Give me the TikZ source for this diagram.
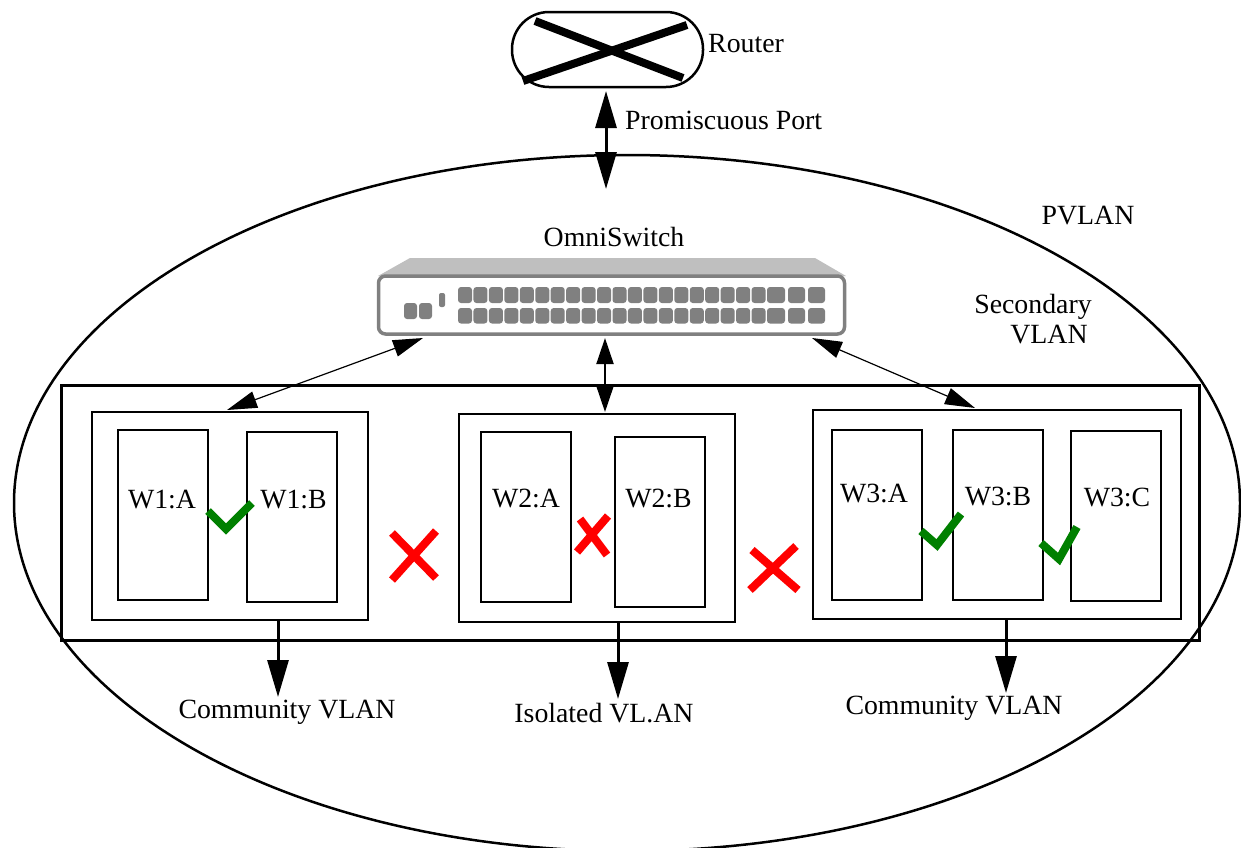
\documentclass[tikz,border=0pt]{standalone}
\usepackage{fontspec}
\setmainfont{Liberation Serif}
\usetikzlibrary{arrows.meta}
\tikzset{
  x=1pt,y=-1pt,
  lbl/.style={inner sep=0pt,font=\fontsize{27.8}{30}\selectfont},
  boxn/.style={draw=black,line width=2.3pt,inner sep=0pt,outer sep=0pt,rectangle},
  big/.style={-{Triangle[length=37pt,width=21pt]},line width=3pt},
  bigboth/.style={{Triangle[length=37pt,width=21pt]}-{Triangle[length=37pt,width=21pt]},line width=3pt},
  thin2/.style={{Triangle[length=30pt,width=17pt]}-{Triangle[length=30pt,width=17pt]},line width=1.2pt},
  mid2/.style={{Triangle[length=26pt,width=17pt]}-{Triangle[length=26pt,width=17pt]},line width=2pt},
  okmark/.style={draw=green!50!black,line width=8pt,miter limit=10},
  nomark/.style={draw=red,line width=8pt},
  port/.style={fill=black!50,draw=none,rounded corners=3pt},
}
\newcommand{\bx}[5]{\node[boxn,minimum width=#4-#2,minimum height=#5-#3,anchor=north west] (#1) at (#2,#3) {};}
\begin{document}
\begin{tikzpicture}
\useasboundingbox (0,0) rectangle (1241,847);
\begin{scope}
\clip (0,0) rectangle (1241,847);
\draw[line width=2.5pt] (627,503) ellipse [x radius=613,y radius=348];
\end{scope}
% router
\node[draw,line width=2.5pt,rounded corners=37pt,minimum width=191pt,minimum height=75pt,inner sep=0pt,outer sep=0pt,anchor=north west] (router) at (512,12) {};
\draw[line width=8pt] (535,21) -- (683,78);
\draw[line width=8pt] (523,81) -- (687,25);
\node[lbl,anchor=west] (routerl) at (708,44) {Router};
\node[lbl,anchor=west] (promisc) at (625,120) {Promiscuous Port};
\coordinate (pa) at (606,91);
\coordinate (pb) at (606,189);
\draw[bigboth] (pa) -- (pb);
% labels
\node[lbl] (pvlan) at (1088,216) {PVLAN};
\node[lbl] (omni) at (614,237) {OmniSwitch};
\node[lbl] (sec1) at (1033,307) {Secondary};
\node[lbl] (sec2) at (1049,335) {VLAN};
% switch
\fill[black!25] (378,276) -- (410,258) -- (815,258) -- (846,276) -- cycle;
\node[draw=black!50,fill=white,line width=3.5pt,rounded corners=7pt,minimum width=466pt,minimum height=58pt,inner sep=0pt,outer sep=0pt,anchor=north west] (sw) at (378.5,276) {};
\foreach \i in {0,...,19}{
  \fill[port] ({458+\i*15.45},287) rectangle +(14,16);
  \fill[port] ({458+\i*15.45},308) rectangle +(14,15.5);
}
\foreach \xa/\xb in {767/785,788/805,808/825}{
  \fill[port] (\xa,287) rectangle (\xb,303);
  \fill[port] (\xa,308) rectangle (\xb,323.5);
}
\fill[port] (404,303) rectangle (417,319);
\fill[port] (419,303) rectangle (432,319);
\fill[port,rounded corners=2pt] (439,293) rectangle (445,307);
% outer rect
\node[boxn,line width=3pt,minimum width=1138pt,minimum height=255pt,anchor=north west] (outer) at (61,385) {};
% W boxes
\bx{wa}{92}{412}{368}{620}
\bx{waa}{118}{430}{208}{600}
\bx{wab}{247}{432}{337}{602}
\bx{wb}{459}{414}{735}{622}
\bx{wba}{481}{432}{571}{602}
\bx{wbb}{615}{437}{705}{607}
\bx{wc}{813}{410}{1181}{619}
\bx{wca}{832}{430}{922}{600}
\bx{wcb}{953}{430}{1043}{600}
\bx{wcc}{1071}{431}{1161}{601}
\node[lbl] (t1) at (162,500) {W1:A};
\node[lbl] (t2) at (293.5,500) {W1:B};
\node[lbl] (t3) at (526,498) {W2:A};
\node[lbl] (t4) at (658.5,498) {W2:B};
\node[lbl] (t5) at (874,493) {W3:A};
\node[lbl] (t6) at (998,496) {W3:B};
\node[lbl] (t7) at (1117,497) {W3:C};
% switch links
\coordinate (s1) at (423,338); \coordinate (d1) at (227,410);
\coordinate (s2) at (605,338); \coordinate (d2) at (605,412);
\coordinate (s3) at (812,338); \coordinate (d3) at (975,408);
\draw[thin2] (s1) -- (d1);
\draw[mid2] (s2) -- (d2);
\draw[thin2] (s3) -- (d3);
% labels + down arrows
\node[lbl] (c1) at (287,712) {Community VLAN};
\node[lbl] (c2) at (604,713) {Isolated VL.AN};
\node[lbl] (c3) at (954,708) {Community VLAN};
\coordinate (a1) at (278,620); \coordinate (e1) at (278,697);
\coordinate (a2) at (618,622); \coordinate (e2) at (618,699);
\coordinate (a3) at (1006,619); \coordinate (e3) at (1006,693);
\draw[big] (a1) -- (e1);
\draw[big] (a2) -- (e2);
\draw[big] (a3) -- (e3);
% marks
\draw[okmark] (208,511) -- (226,529) -- (252,503);
\draw[okmark] (921,531) -- (937,545) -- (961,514);
\draw[okmark] (1041,543) -- (1059,559) -- (1077,527);
\draw[nomark] (392,533) -- (436,578) (436,531) -- (392,580);
\draw[nomark] (580,519) -- (607,555) (608,516) -- (577,552);
\draw[nomark] (752,550) -- (798,590) (796,546) -- (750,590);
\end{tikzpicture}
\end{document}
